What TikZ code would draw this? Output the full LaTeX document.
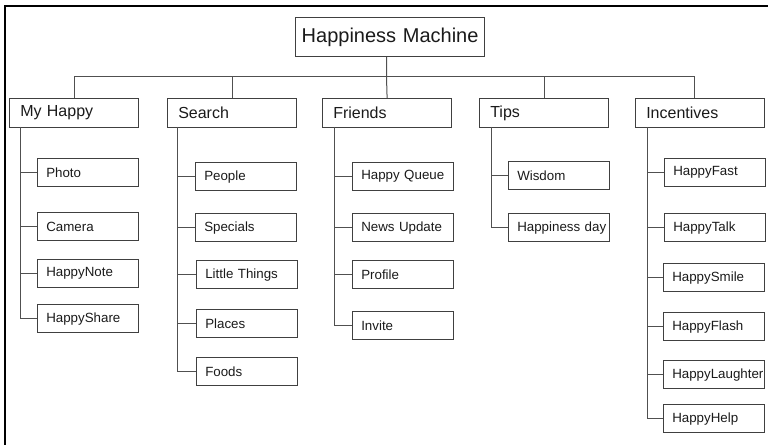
\documentclass[tikz,border=0pt]{standalone}
\usepackage{fontspec}
\setmainfont{Liberation Sans}
\definecolor{boxline}{HTML}{404040}
\definecolor{linkline}{HTML}{505050}
\definecolor{textcol}{HTML}{1A1A1A}

\begin{document}
\begin{tikzpicture}[x=0.75pt,y=-0.75pt,
  box/.style={draw=boxline, line width=0.9pt, anchor=north west, text=textcol, inner xsep=0pt, inner ysep=0pt, align=left},
  rootbox/.style={box, text width=141.75pt, minimum height=29.25pt, align=center, font=\fontsize{15}{18}\selectfont},
  catbox/.style={box, text width=96.75pt, minimum height=21.75pt, font=\fontsize{12}{14}\selectfont, execute at begin node=\hspace*{8pt}},
  itembox/.style={box, text width=75.75pt, minimum height=21pt, font=\fontsize{10}{12}\selectfont, execute at begin node=\hspace*{6.5pt}},
  link/.style={draw=linkline, line width=0.75pt}]
\useasboundingbox (0,0) rectangle (768,445);

% 外框（左边和上边）
\draw[line width=1.5pt] (5,445) -- (5,6.5) -- (768,6.5);

% 根节点
\node[rootbox] (root) at (295,17) {Happiness Machine};

% 第一层
\node[catbox] (myhappy) at (9,98) {My Happy};
\node[catbox] (search) at (167,98) {Search};
\node[catbox] (friends) at (322,98) {Friends};
\node[catbox] (tips) at (479,98) {Tips};
\node[catbox] (incent) at (635,98) {Incentives};

% My Happy 下的项目
\node[itembox] (photo) at (37,158) {Photo};
\node[itembox] (camera) at (37,212) {Camera};
\node[itembox] (happynote) at (37,259) {HappyNote};
\node[itembox] (happyshare) at (37,304) {HappyShare};

% Search 下的项目
\node[itembox] (people) at (195,162) {People};
\node[itembox] (specials) at (195,213) {Specials};
\node[itembox] (little) at (196,260) {Little Things};
\node[itembox] (places) at (196,309) {Places};
\node[itembox] (foods) at (196,357) {Foods};

% Friends 下的项目
\node[itembox] (queue) at (352,162) {Happy Queue};
\node[itembox] (news) at (352,213) {News Update};
\node[itembox] (profile) at (352,260) {Profile};
\node[itembox] (invite) at (352,311) {Invite};

% Tips 下的项目
\node[itembox] (wisdom) at (508,161) {Wisdom};
\node[itembox] (hday) at (508,213) {Happiness day};

% Incentives 下的项目
\node[itembox] (hfast) at (664,158) {HappyFast};
\node[itembox] (htalk) at (664,213) {HappyTalk};
\node[itembox] (hsmile) at (663,263) {HappySmile};
\node[itembox] (hflash) at (663,312) {HappyFlash};
\node[itembox] (hlaugh) at (663,360) {HappyLaughter};
\node[itembox] (hhelp) at (663,404) {HappyHelp};

% 根节点到第一层的连线
\coordinate (bus) at (386.5,77);
\draw[link] (bus |- root.south) -- (bus) -- (friends.north);
\draw[link] (bus) -| (myhappy.north) (bus) -| (search.north)
  (bus) -| (tips.north) (bus) -| ([xshift=-4.5pt]incent.north);

% 第一层到项目的连线
\coordinate (mhspine) at (20,127);
\coordinate (sespine) at (177,127);
\coordinate (frspine) at (334,127);
\coordinate (tispine) at (491,127);
\coordinate (inspine) at (647,127);
\draw[link] (mhspine) |- (photo.west) (mhspine) |- (camera.west)
  (mhspine) |- (happynote.west) (mhspine) |- (happyshare.west);
\draw[link] (sespine) |- (people.west) (sespine) |- (specials.west)
  (sespine) |- (little.west) (sespine) |- (places.west) (sespine) |- (foods.west);
\draw[link] (frspine) |- (queue.west) (frspine) |- (news.west)
  (frspine) |- (profile.west) (frspine) |- (invite.west);
\draw[link] (tispine) |- (wisdom.west) (tispine) |- (hday.west);
\draw[link] (inspine) |- (hfast.west) (inspine) |- (htalk.west) (inspine) |- (hsmile.west)
  (inspine) |- (hflash.west) (inspine) |- (hlaugh.west) (inspine) |- (hhelp.west);
\end{tikzpicture}
\end{document}
